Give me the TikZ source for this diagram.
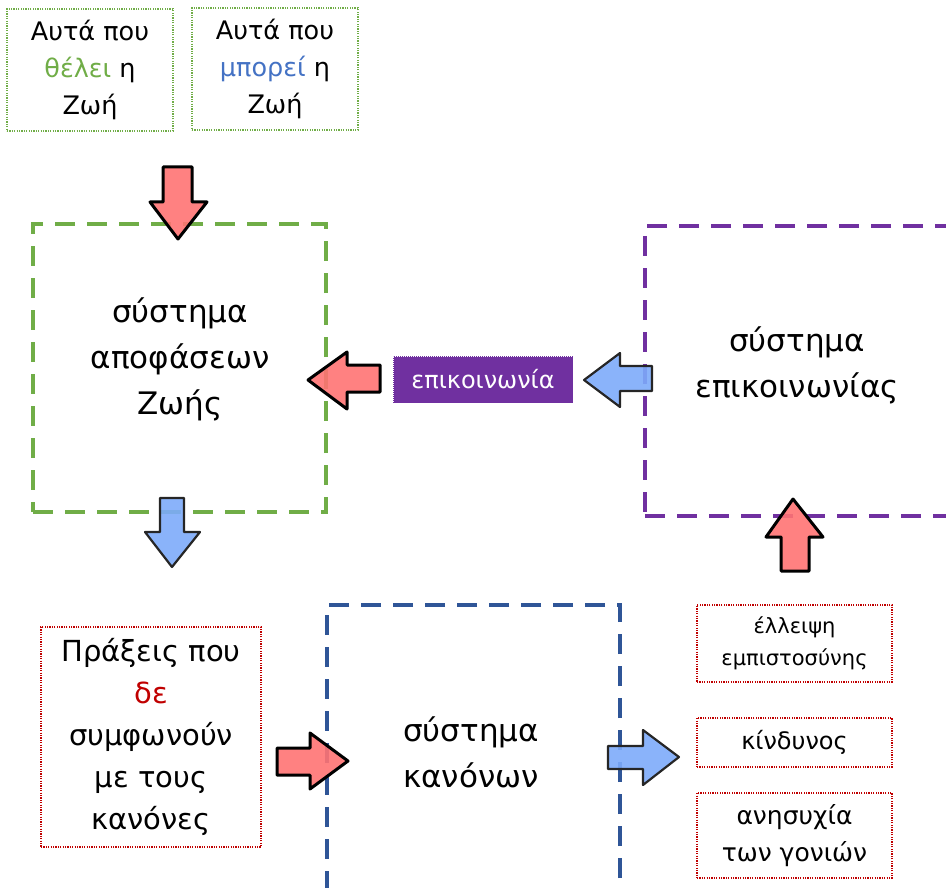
\documentclass[tikz,border=0pt]{standalone}
\usepackage{fontspec}
\setmainfont{DejaVu Sans}
\definecolor{cgreen}{HTML}{70AD47}
\definecolor{cblue}{HTML}{2F5597}
\definecolor{cpurple}{HTML}{7030A0}
\definecolor{cred}{HTML}{C00000}
\definecolor{afred}{HTML}{FF7373}
\definecolor{afblue}{HTML}{7DABFA}
\definecolor{tblue}{HTML}{4472C4}
\definecolor{adark}{HTML}{262626}
\begin{document}
\begin{tikzpicture}[x=1pt,y=-1pt,
  dotbox/.style={draw=#1, line width=1.2pt, dash pattern=on 1.2pt off 1.2pt, inner sep=0pt, align=center},
  bigbox/.style={draw=#1, line width=4pt, dash pattern=on 20pt off 12pt, inner sep=0pt},
  redarrow/.style={draw=black, line width=3pt, line join=round, fill=afred, fill opacity=0.9},
  bluearrow/.style={draw=adark, line width=2.2pt, line join=round, fill=afblue, fill opacity=0.9},
  bigtext/.style={align=center, font=\fontsize{31}{46}\selectfont},
  toptext/.style={font=\fontsize{25.5}{37}\selectfont}]
\useasboundingbox (0,0) rectangle (946,888);

% top dotted boxes
\node[dotbox=cgreen, toptext, minimum width=166pt, minimum height=122pt] (want) at (90,70)
  {Αυτά που\\ \textcolor{cgreen}{θέλει} η\\ Ζωή};
\node[dotbox=cgreen, toptext, minimum width=166pt, minimum height=122pt] (can) at (275,69)
  {Αυτά που\\ \textcolor{tblue}{μπορεί} η\\ Ζωή};

% big dashed boxes
\node[bigbox=cgreen, minimum width=293pt, minimum height=288pt] (dec) at (179.5,368) {};
\node[bigtext] (dectext) at (180,359) {σύστημα\\ αποφάσεων\\ Ζωής};

\node[bigbox=cpurple, minimum width=330pt, minimum height=290pt] (com) at (810,371) {};
\node[bigtext] (comtext) at (797,365) {σύστημα\\ επικοινωνίας};

\node[bigbox=cblue, minimum width=293pt, minimum height=300pt] (rules) at (473.5,755) {};
\node[bigtext] (rulestext) at (471,752) {σύστημα\\ κανόνων};

% purple label
\node[fill=cpurple, draw=white, dash pattern=on 1pt off 1pt, line width=0.8pt, text=white, font=\fontsize{24}{25}\selectfont,
  minimum width=180pt, minimum height=47pt, inner sep=0pt] (lab) at (483,379.5) {επικοινωνία};

% left lower box
\node[dotbox=cred, font=\fontsize{29}{42}\selectfont, minimum width=220pt, minimum height=220pt] (acts) at (151,737)
  {Πράξεις που\\ \textcolor{cred}{δε}\\ συμφωνούν\\ με τους\\ κανόνες};

% right boxes
\node[dotbox=cred, font=\fontsize{21}{32}\selectfont, minimum width=195pt, minimum height=77pt] (trust) at (794.5,643.5)
  {έλλειψη\\ εμπιστοσύνης};
\node[dotbox=cred, font=\fontsize{24}{32}\selectfont, minimum width=195pt, minimum height=49pt] (danger) at (794.5,742.5)
  {κίνδυνος};
\node[dotbox=cred, font=\fontsize{25}{37}\selectfont, minimum width=195pt, minimum height=85pt] (worry) at (794.5,835.5)
  {ανησυχία\\ των γονιών};

% block arrows
\draw[redarrow] (163,167) -- (192,167) -- (192,202) -- (207,202) -- (178,239) -- (150,202) -- (163,202) -- cycle;
\draw[redarrow] (380,365) -- (347,365) -- (347,352) -- (308,380) -- (347,409) -- (347,392) -- (380,392) -- cycle;
\draw[bluearrow] (652,366) -- (620,366) -- (620,353) -- (584,380) -- (620,407) -- (620,391) -- (652,391) -- cycle;
\draw[redarrow] (781,571) -- (781,537) -- (766,537) -- (793,499) -- (823,537) -- (809,537) -- (809,571) -- cycle;
\draw[bluearrow] (160,498) -- (184,498) -- (184,532) -- (200,532) -- (172,567) -- (145,532) -- (160,532) -- cycle;
\draw[redarrow] (277,748) -- (310,748) -- (310,733) -- (348,761) -- (310,789) -- (310,775) -- (277,775) -- cycle;
\draw[bluearrow] (608,746) -- (643,746) -- (643,730) -- (679,757) -- (643,785) -- (643,769) -- (608,769) -- cycle;
\end{tikzpicture}
\end{document}
